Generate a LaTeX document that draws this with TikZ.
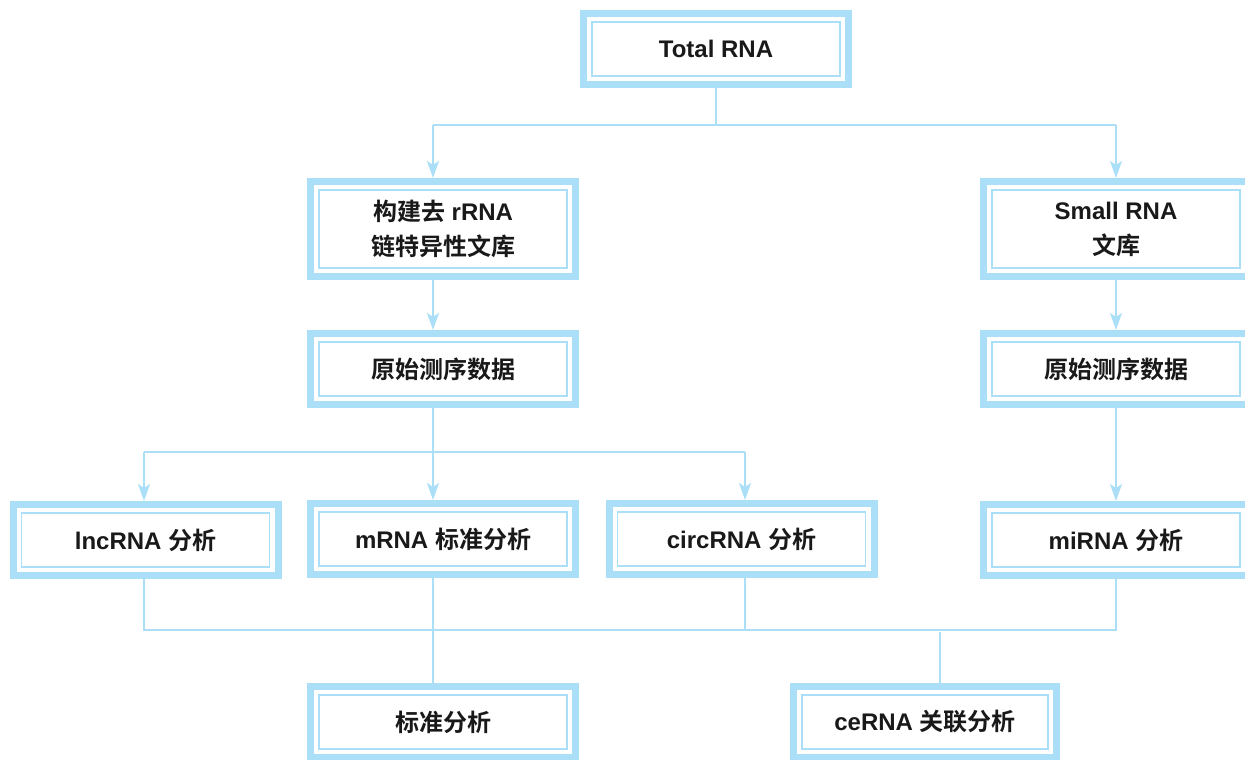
\documentclass[tikz,border=0pt]{standalone}
\usepackage{fontspec}
\setmainfont{Liberation Sans}
\newfontfamily\cjkfont{Noto Sans CJK SC}[BoldFont={* Bold}]
\newcommand{\zhs}[1]{{\cjkfont\bfseries #1}}
\usetikzlibrary{arrows.meta}
\definecolor{lb}{HTML}{AADFF7}
\tikzset{
  box/.style={draw=lb, line width=7pt, outer sep=3.5pt, minimum width=265pt,
    minimum height=71pt, inner sep=0pt, align=center, fill=white,
    font=\fontsize{24}{35}\selectfont\bfseries, text=black!90},
  tall/.style={minimum height=95pt},
  conn/.style={draw=lb, line width=2pt},
  arr/.style={conn, -{Stealth[length=17pt, width=12pt, inset=4pt]}}
}
\begin{document}
\begin{tikzpicture}[x=1pt,y=1pt]
\useasboundingbox (0,0) rectangle (1245,-760);
% column coordinates
\coordinate (xt) at (716,0);
\coordinate (xa) at (433,0);
\coordinate (xs) at (1116,0);
\coordinate (xl) at (144,0);
\coordinate (xc) at (745,0);
\coordinate (xe) at (940,0);
% nodes
\node[box] (t) at (716,-49) {Total RNA};
\node[box,tall] (a) at (443,-229) {\zhs{构建去} rRNA\\\zhs{链特异性文库}};
\node[box,tall] (s) at (1116,-229) {Small RNA\\\zhs{文库}};
\node[box] (r1) at (443,-369) {\zhs{原始测序数据}};
\node[box] (r2) at (1116,-369) {\zhs{原始测序数据}};
\node[box] (l) at (145.5,-540) {lncRNA \zhs{分析}};
\node[box] (m) at (443,-539) {mRNA \zhs{标准分析}};
\node[box] (c) at (741.5,-539) {circRNA \zhs{分析}};
\node[box] (mi) at (1116,-540) {miRNA \zhs{分析}};
\node[box] (std) at (443,-722) {\zhs{标准分析}};
\node[box,minimum width=263pt] (ce) at (925,-722) {ceRNA \zhs{关联分析}};
% inner thin frames
\foreach \n in {t,a,s,r1,r2,l,m,c,mi,std,ce}
  \draw[lb, line width=1.8pt] ([shift={(12,-12)}]\n.north west) rectangle ([shift={(-12,12)}]\n.south east);
% split coordinates
\coordinate (j1) at (716,-125);
\coordinate (j2) at (433,-452);
\coordinate (j3) at (433,-630);
% connectors
\draw[conn] (t.south) -- (j1);
\draw[conn] (j1 -| xa) -- (j1 -| xs);
\draw[arr] (j1 -| xa) -- (a.north -| xa);
\draw[arr] (j1 -| xs) -- (s.north -| xs);
\draw[arr] (a.south -| xa) -- (r1.north -| xa);
\draw[arr] (s.south -| xs) -- (r2.north -| xs);
\draw[conn] (r1.south -| xa) -- (j2);
\draw[conn] (j2 -| xl) -- (j2 -| xc);
\draw[arr] (j2 -| xl) -- (l.north -| xl);
\draw[arr] (j2) -- (m.north -| xa);
\draw[arr] (j2 -| xc) -- (c.north -| xc);
\draw[arr] (r2.south -| xs) -- (mi.north -| xs);
\draw[conn] (l.south -| xl) -- (j3 -| xl) -- (j3 -| xs) -- (mi.south -| xs);
\draw[conn] (c.south -| xc) -- (j3 -| xc);
\draw[conn] (m.south -| xa) -- (std.north -| xa);
\draw[conn] ([yshift=-2]j3 -| xe) -- (ce.north -| xe);
\end{tikzpicture}
\end{document}
